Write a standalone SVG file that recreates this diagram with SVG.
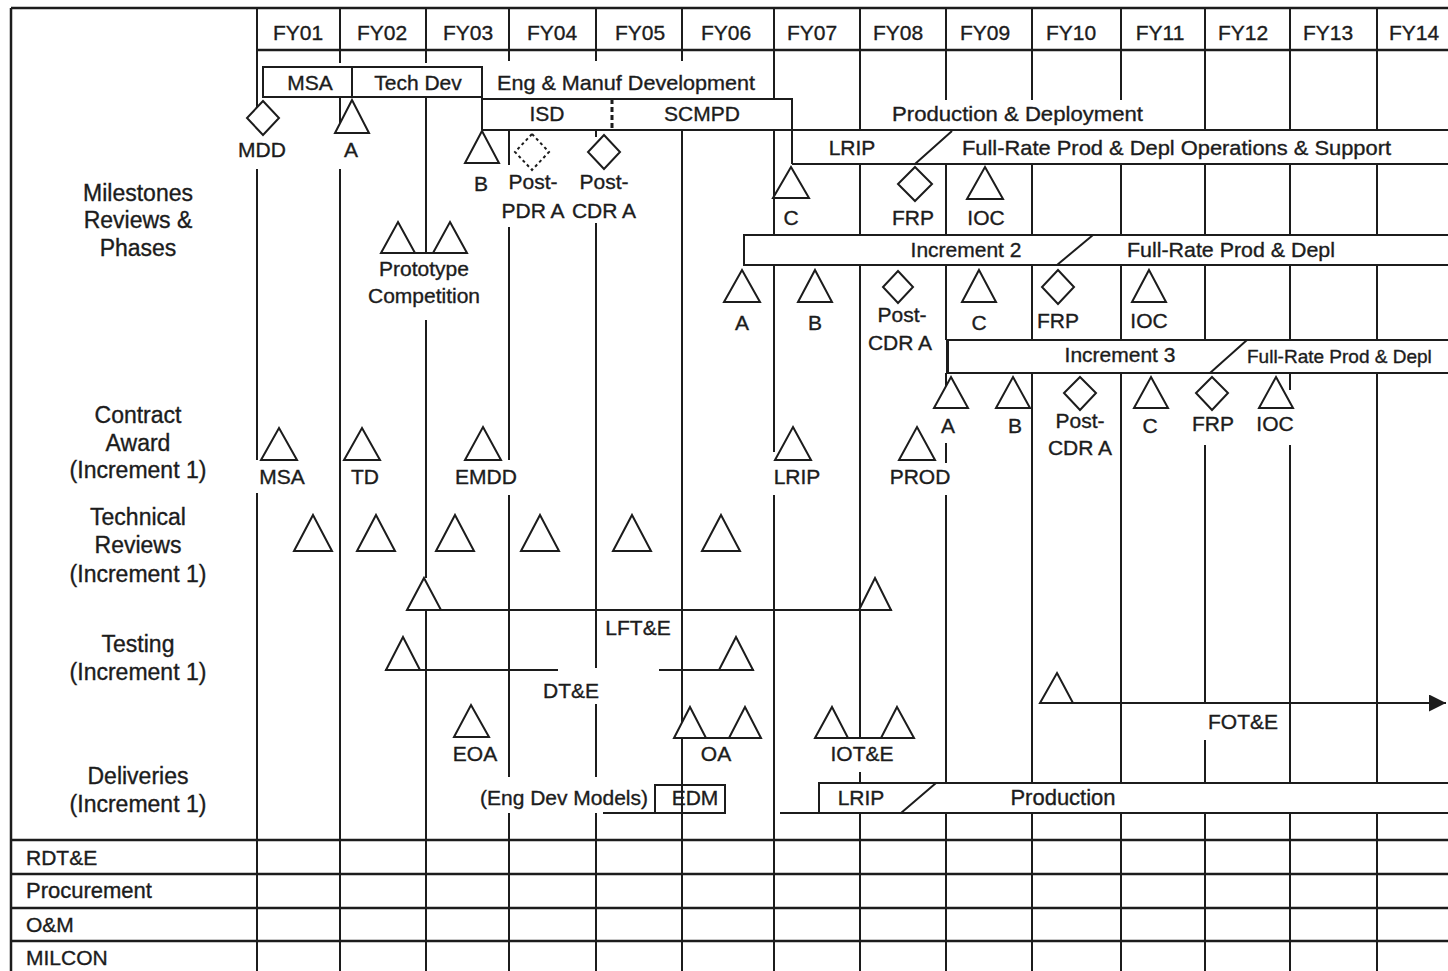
<svg xmlns="http://www.w3.org/2000/svg" width="1448" height="971" viewBox="0 0 1448 971">
<defs>
<style>
text{font-family:"Liberation Sans",Arial,sans-serif;font-size:21px;fill:#1c1c1c;stroke:#1c1c1c;stroke-width:0.35;text-anchor:middle}
.l{text-anchor:start}
.big{font-size:23px}
.ln{fill:none;stroke:#1c1c1c;stroke-width:2}
.fr{fill:none;stroke:#1c1c1c;stroke-width:2.5}
.sh{fill:#fff;stroke:#1c1c1c;stroke-width:2}
.bar{fill:#fff;stroke:#1c1c1c;stroke-width:2}
.dash{fill:#fff;stroke:#1c1c1c;stroke-width:2;stroke-dasharray:3 3}
</style>
<marker id="arr" viewBox="0 0 10 10" refX="10" refY="5" markerWidth="19" markerHeight="17" markerUnits="userSpaceOnUse" orient="auto">
<path d="M0 0L10 5L0 10Z" fill="#1c1c1c"/>
</marker>
</defs>
<rect width="1448" height="971" fill="#fff"/>

<g id="grid">
<path class="fr" d="M11 8H1448M11 8V971M257 50H1448M11 840H1448M11 874H1448M11 908H1448M11 941H1448"/>
<path class="ln" d="M257 8V110M257 169V460M257 493V971
M340 8V63M340 97V133M340 169V971
M426 8V63M426 97V253M426 320V578M426 610V971
M509 8V61M509 130V165M509 227V460M509 495V777M509 813V971
M596 8V61M596 130V137M596 223V668M596 704V777M596 813V971
M682 8V61M682 130V971
M774 8V99M774 130V235M774 265V452M774 495V971
M860 8V130M860 164V235M860 265V738M860 772V783M860 813V971
M946 8V100M946 164V235M946 265V340M946 373V390M946 443V463M946 495V783M946 813V971
M1032 8V100M1032 164V235M1032 265V340M1032 373V783M1032 813V971
M1121 8V100M1121 164V235M1121 265V340M1121 373V783M1121 813V971
M1205 8V130M1205 164V235M1205 265V340M1205 445V703M1205 740V783M1205 813V971
M1290 8V130M1290 164V235M1290 265V340M1290 373V390M1290 445V783M1290 813V971
M1377 8V130M1377 164V235M1377 265V340M1377 373V783M1377 813V971"/>
</g>

<g id="header">
<text x="298" y="40">FY01</text><text x="382" y="40">FY02</text><text x="468" y="40">FY03</text>
<text x="552" y="40">FY04</text><text x="640" y="40">FY05</text><text x="726" y="40">FY06</text>
<text x="812" y="40">FY07</text><text x="898" y="40">FY08</text><text x="985" y="40">FY09</text>
<text x="1071" y="40">FY10</text><text x="1160" y="40">FY11</text><text x="1243" y="40">FY12</text>
<text x="1328" y="40">FY13</text><text x="1414" y="40">FY14</text>
</g>

<g id="row-labels">
<text class="big" x="138" y="201">Milestones</text>
<text class="big" x="138" y="228">Reviews &amp;</text>
<text class="big" x="138" y="256">Phases</text>
<text class="big" x="138" y="423">Contract</text>
<text class="big" x="138" y="451">Award</text>
<text class="big" x="138" y="478">(Increment 1)</text>
<text class="big" x="138" y="525">Technical</text>
<text class="big" x="138" y="553">Reviews</text>
<text class="big" x="138" y="582">(Increment 1)</text>
<text class="big" x="138" y="652">Testing</text>
<text class="big" x="138" y="680">(Increment 1)</text>
<text class="big" x="138" y="784">Deliveries</text>
<text class="big" x="138" y="812">(Increment 1)</text>
<text class="l" x="26" y="865">RDT&amp;E</text>
<text class="l" x="26" y="898" style="font-size:22px">Procurement</text>
<text class="l" x="26" y="932">O&amp;M</text>
<text class="l" x="26" y="965">MILCON</text>
</g>

<g id="phases-inc1">
<rect class="bar" x="263" y="67" width="219" height="30"/>
<path class="ln" d="M352 67V97"/>
<text x="310" y="90">MSA</text>
<text x="418" y="90">Tech Dev</text>
<text class="l" x="497" y="90" textLength="258" lengthAdjust="spacingAndGlyphs">Eng &amp; Manuf Development</text>
<path class="ln" d="M482 97V130M482 99H792V164M482 130H1448M792 164H1448M915 164L952 131"/>
<path d="M612 99V130" fill="none" stroke="#1c1c1c" stroke-width="3" stroke-dasharray="5 3"/>
<text x="547" y="121">ISD</text>
<text x="702" y="121">SCMPD</text>
<text class="l" x="892" y="121" textLength="251" lengthAdjust="spacingAndGlyphs">Production &amp; Deployment</text>
<text x="852" y="155">LRIP</text>
<text class="l" x="962" y="155" textLength="429" lengthAdjust="spacingAndGlyphs">Full-Rate Prod &amp; Depl Operations &amp; Support</text>
</g>

<g id="milestones-inc1">
<polygon class="sh" points="263,101 279,118 263,135 247,118"/>
<text x="262" y="157">MDD</text>
<polygon class="sh" points="352,100 369,133 335,133"/>
<text x="351" y="157">A</text>
<polygon class="sh" points="482,131 499,163 465,163"/>
<text x="481" y="191">B</text>
<polygon class="dash" points="532,134 549,152 532,170 515,152"/>
<text x="533" y="189">Post-</text>
<text x="533" y="218">PDR A</text>
<polygon class="sh" points="604,135 620,152 604,169 588,152"/>
<text x="604" y="189">Post-</text>
<text x="604" y="218">CDR A</text>
<polygon class="sh" points="791,167 809,198 773,198"/>
<text x="791" y="225">C</text>
<polygon class="sh" points="915,167 932,184 915,201 898,184"/>
<text x="913" y="225">FRP</text>
<polygon class="sh" points="985,167 1003,199 967,199"/>
<text x="986" y="225">IOC</text>
<polygon class="sh" points="398,222 415,253 381,253"/>
<polygon class="sh" points="450,222 467,253 433,253"/>
<path class="ln" d="M381 253H467"/>
<text x="424" y="276">Prototype</text>
<text x="424" y="303">Competition</text>
</g>

<g id="increment-2">
<path class="bar" d="M1448 235H744V265H1448"/>
<path class="ln" d="M1057 265L1093 235"/>
<text x="966" y="257">Increment 2</text>
<text class="l" x="1127" y="257" textLength="208" lengthAdjust="spacingAndGlyphs">Full-Rate Prod &amp; Depl</text>
<polygon class="sh" points="742,270 760,302 724,302"/>
<text x="742" y="330">A</text>
<polygon class="sh" points="815,270 832,302 798,302"/>
<text x="815" y="330">B</text>
<polygon class="sh" points="898,271 913,287 898,303 883,287"/>
<text x="902" y="322">Post-</text>
<text x="900" y="350">CDR A</text>
<polygon class="sh" points="979,270 996,302 962,302"/>
<text x="979" y="330">C</text>
<polygon class="sh" points="1058,270 1074,287 1058,304 1042,287"/>
<text x="1058" y="328">FRP</text>
<polygon class="sh" points="1149,270 1166,302 1132,302"/>
<text x="1149" y="328">IOC</text>
</g>

<g id="increment-3">
<path class="bar" d="M1448 340H948V373H1448"/>
<path class="ln" d="M947 340V373" stroke-width="3"/>
<path class="ln" d="M1210 373L1247 340"/>
<text x="1120" y="362">Increment 3</text>
<text class="l" x="1247" y="363" style="font-size:19px">Full-Rate Prod &amp; Depl</text>
<polygon class="sh" points="951,377 968,408 934,408"/>
<text x="948" y="433">A</text>
<polygon class="sh" points="1013,377 1030,408 996,408"/>
<text x="1015" y="433">B</text>
<polygon class="sh" points="1080,377 1096,393 1080,410 1064,393"/>
<text x="1080" y="428">Post-</text>
<text x="1080" y="455">CDR A</text>
<polygon class="sh" points="1151,377 1168,408 1134,408"/>
<text x="1150" y="433">C</text>
<polygon class="sh" points="1212,377 1228,393 1212,410 1196,393"/>
<text x="1213" y="431">FRP</text>
<polygon class="sh" points="1276,377 1293,408 1259,408"/>
<text x="1275" y="431">IOC</text>
</g>

<g id="contract-award">
<polygon class="sh" points="279,428 297,460 261,460"/>
<text x="282" y="484">MSA</text>
<polygon class="sh" points="362,428 380,460 344,460"/>
<text x="365" y="484">TD</text>
<polygon class="sh" points="483,427 501,460 465,460"/>
<text x="486" y="484">EMDD</text>
<polygon class="sh" points="793,427 811,460 775,460"/>
<text x="797" y="484">LRIP</text>
<polygon class="sh" points="917,427 935,460 899,460"/>
<text x="920" y="484">PROD</text>
</g>

<g id="technical-reviews">
<polygon class="sh" points="313,515 332,551 294,551"/>
<polygon class="sh" points="376,515 395,551 357,551"/>
<polygon class="sh" points="455,515 474,551 436,551"/>
<polygon class="sh" points="540,515 559,551 521,551"/>
<polygon class="sh" points="632,515 651,551 613,551"/>
<polygon class="sh" points="721,515 740,551 702,551"/>
</g>

<g id="testing">
<path class="ln" d="M407 610H892"/>
<polygon class="sh" points="424,578 441,610 407,610"/>
<polygon class="sh" points="875,578 891,610 859,610"/>
<text x="638" y="635">LFT&amp;E</text>
<path class="ln" d="M385 670H558M659 670H754"/>
<polygon class="sh" points="403,637 420,670 386,670"/>
<polygon class="sh" points="736,637 753,670 719,670"/>
<text x="571" y="698">DT&amp;E</text>
<polygon class="sh" points="471,705 489,737 454,737"/>
<text x="475" y="761">EOA</text>
<path class="ln" d="M674 738H761"/>
<polygon class="sh" points="690,707 706,738 674,738"/>
<polygon class="sh" points="745,707 761,738 729,738"/>
<text x="716" y="761">OA</text>
<path class="ln" d="M815 738H914"/>
<polygon class="sh" points="832,707 848,738 815,738"/>
<polygon class="sh" points="897,707 914,738 881,738"/>
<text x="862" y="761">IOT&amp;E</text>
<path class="ln" d="M1040 703H1446" marker-end="url(#arr)"/>
<polygon class="sh" points="1057,673 1073,703 1040,703"/>
<text x="1243" y="729">FOT&amp;E</text>
</g>

<g id="deliveries">
<text x="564" y="805">(Eng Dev Models)</text>
<path class="ln" d="M603 813H655"/>
<rect class="ln" x="655" y="785" width="70" height="28"/>
<text x="695" y="805">EDM</text>
<path class="bar" d="M1448 783H819V813H1448"/>
<path class="ln" d="M780 813H819M901 813L936 783"/>
<text x="861" y="805">LRIP</text>
<text x="1063" y="805" style="font-size:22px">Production</text>
</g>
</svg>
